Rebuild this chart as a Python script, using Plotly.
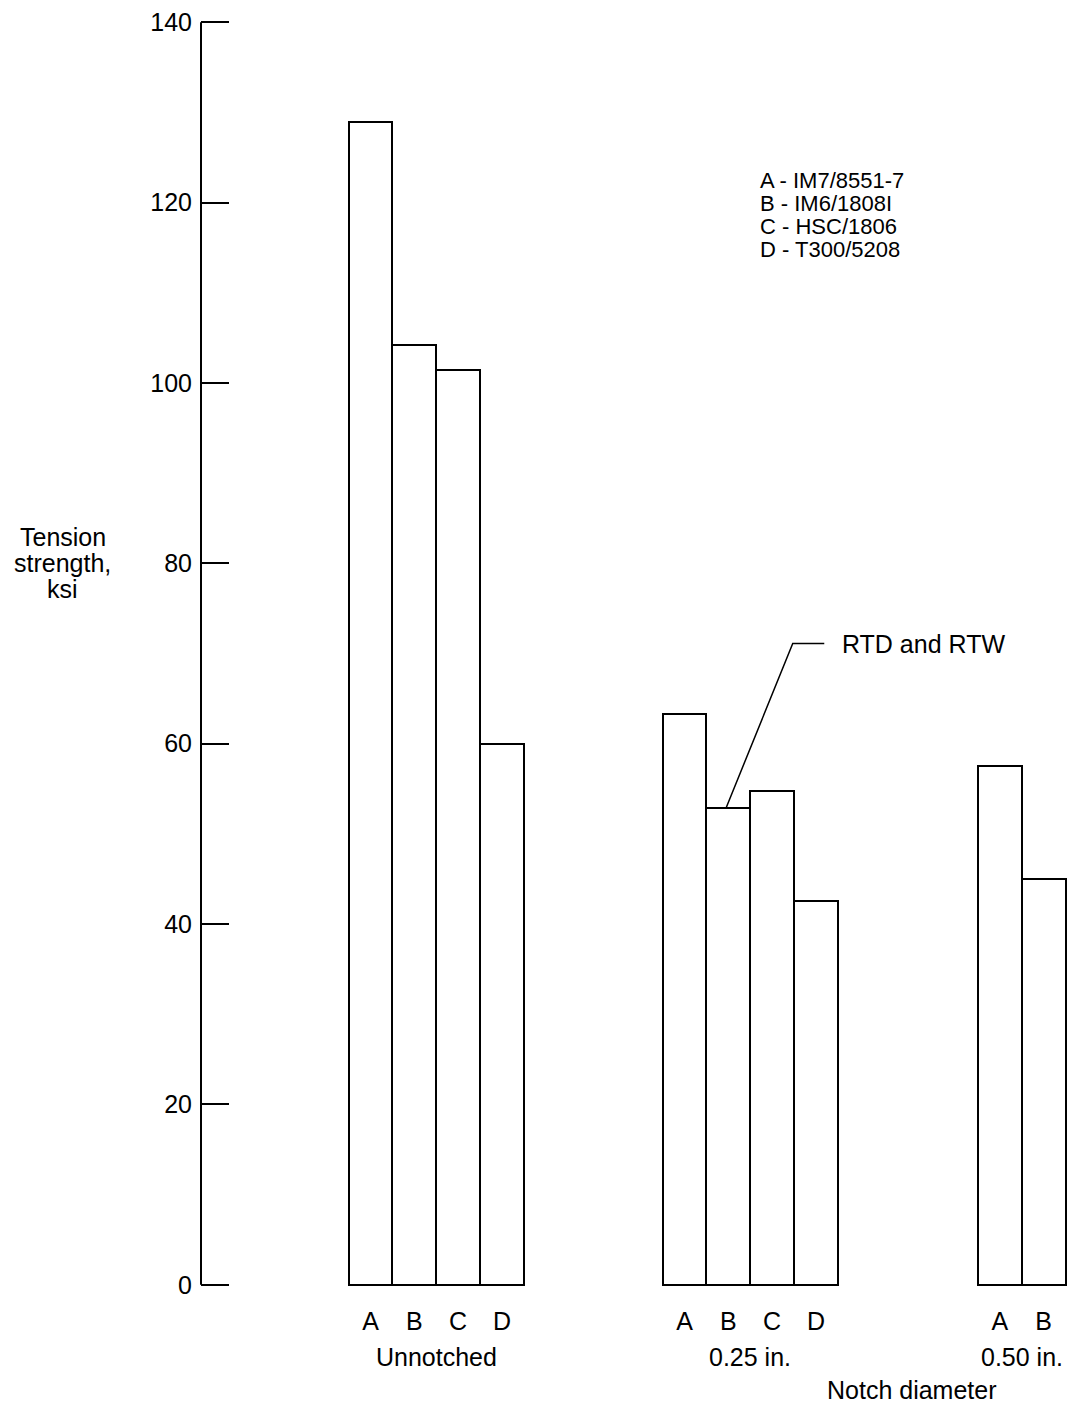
import plotly.graph_objects as go

# ---- data ----
groups = ["Unnotched", "0.25 in.", "0.50 in."]
materials = ["A", "B", "C", "D"]
unnotched = [128.9, 104.2, 101.4, 60.0]
notch_025 = [63.3, 52.9, 54.8, 42.5]
notch_050 = [57.5, 45.0]
legend_lines = ["A - IM7/8551-7", "B - IM6/1808I", "C - HSC/1806", "D - T300/5208"]
y_ticks = [0, 20, 40, 60, 80, 100, 120, 140]
group_starts = [3.87, 11.04, 18.24]  # position of first bar in each group (bar-width units)

series = [unnotched, notch_025, notch_050]

FONT = "Liberation Sans, Arial, Helvetica, sans-serif"
FS = 25
fig = go.Figure()

xs, ys, labels = [], [], []
for start, vals in zip(group_starts, series):
    for i, v in enumerate(vals):
        xs.append(start + i)
        ys.append(v)
        labels.append(materials[i])

fig.add_trace(go.Bar(
    x=xs, y=ys, width=1.0,
    marker=dict(color="white", line=dict(color="black", width=2)),
    showlegend=False, hoverinfo="y",
))

# group labels
for start, vals, g in zip(group_starts, series, groups):
    center = start + (len(vals) - 1) / 2
    fig.add_annotation(x=center, xref="x", y=-0.0552, yref="paper", text=g,
                       showarrow=False, font=dict(size=FS, family=FONT, color="black"),
                       xanchor="center", yanchor="middle")

fig.add_annotation(x=16.23, xref="x", y=-0.0812, yref="paper", text="Notch diameter",
                   showarrow=False, font=dict(size=FS, family=FONT, color="black"),
                   xanchor="center", yanchor="middle", borderpad=0, borderwidth=0)

# y-axis title
for k, t in enumerate(["Tension", "strength,", "ksi"]):
    fig.add_annotation(x=-0.159, xref="paper", y=0.5714 + (1 - k) * 0.0205, yref="paper",
                       text=t, showarrow=False, align="center",
                       font=dict(size=FS, family=FONT, color="black"),
                       xanchor="center", yanchor="middle")

# legend text
for k, line in enumerate(legend_lines):
    fig.add_annotation(x=12.76, xref="x", y=122.4 - k * 2.53, yref="y", text=line,
                       showarrow=False, font=dict(size=22, family=FONT, color="black"),
                       xanchor="left", yanchor="middle", borderpad=0, borderwidth=0)

# RTD and RTW leader
b_x = group_starts[1] + 1
b_y = notch_025[1]
corner_x, corner_y = b_x + 1.47, 71.1
end_x = corner_x + 0.72
fig.add_shape(type="path", xref="x", yref="y",
              path=f"M {b_x - 0.05} {b_y} L {corner_x} {corner_y} L {end_x} {corner_y}",
              line=dict(color="black", width=1.5))
fig.add_annotation(x=end_x + 0.36, xref="x", y=corner_y, yref="y", text="RTD and RTW",
                   showarrow=False, font=dict(size=FS, family=FONT, color="black"),
                   xanchor="left", yanchor="middle")

PX_PER_UNIT = 43.8
PLOT_W = 868
fig.update_layout(
    width=1061, height=1396,
    margin=dict(l=193, r=0, t=12, b=117),
    plot_bgcolor="white", paper_bgcolor="white",
    font=dict(family=FONT, size=FS, color="black"),
    bargap=0,
    xaxis=dict(range=[0, PLOT_W / PX_PER_UNIT], showline=False, zeroline=False, showgrid=False,
               tickmode="array", tickvals=xs, ticktext=labels, ticks="",
               ticklabelstandoff=17, tickfont=dict(size=FS, family=FONT, color="black")),
    yaxis=dict(range=[-0.25, 140.25], showline=False, zeroline=False, showgrid=False,
               tickmode="array", tickvals=y_ticks,
               ticks="inside", ticklen=28, tickwidth=2, tickcolor="black",
               ticklabeloverflow="allow",
               ticklabelstandoff=8, tickfont=dict(size=FS, family=FONT, color="black")),
)

# y-axis spine from 0 to 140, in data coordinates
fig.add_shape(type="line", xref="paper", yref="y", x0=0, x1=0,
              y0=y_ticks[0], y1=y_ticks[-1], line=dict(color="black", width=2))

fig.write_html("out.html")
